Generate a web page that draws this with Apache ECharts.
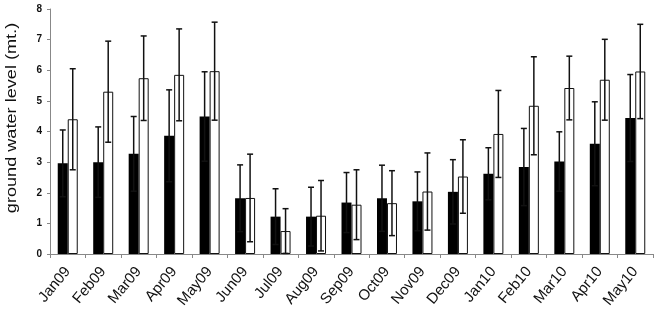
<!DOCTYPE html>
<html>
<head>
<meta charset="utf-8">
<script src="https://cdn.jsdelivr.net/npm/echarts@6/dist/echarts.min.js"></script>
<style>
html,body{margin:0;padding:0;background:#fff;}
#chart{width:662px;height:322px;}
</style>
</head>
<body>
<div id="chart"></div>
<script>
const categories = ['Jan09','Feb09','Mar09','Apr09','May09','Jun09','Jul09','Aug09','Sep09','Oct09','Nov09','Dec09','Jan10','Feb10','Mar10','Apr10','May10'];
const blackMean = [2.96,3.00,3.27,3.86,4.49,1.82,1.22,1.22,1.68,1.82,1.72,2.03,2.62,2.84,3.02,3.60,4.44];
const blackErr  = [1.09,1.15,1.22,1.50,1.46,1.09,0.91,0.96,0.98,1.08,0.96,1.05,0.85,1.26,0.97,1.37,1.42];
const whiteMean = [4.40,5.30,5.74,5.85,5.97,1.83,0.75,1.25,1.61,1.66,2.04,2.53,3.92,4.84,5.42,5.69,5.96];
const whiteErr  = [1.65,1.65,1.38,1.50,1.60,1.43,0.73,1.15,1.14,1.06,1.26,1.20,1.42,1.60,1.04,1.32,1.54];
const yTicks = [0,1,2,3,4,5,6,7,8];
const yTitle = 'ground water level (mt.)';

const chart = echarts.init(document.getElementById('chart'), null, {renderer:'canvas'});
const BAR_W = 10;

function errRender(side) {
  return function (params, api) {
    const i = api.value(0), m = api.value(1), e = api.value(2);
    const hi = api.coord([i, m + e]);
    const lo = api.coord([i, m - e]);
    const x = hi[0] + side * BAR_W / 2;
    const cap = 3;
    const st = {stroke:'#111', lineWidth:1.5};
    return {
      type:'group',
      children:[
        {type:'line', shape:{x1:x, y1:hi[1], x2:x, y2:lo[1]}, style:st},
        {type:'line', shape:{x1:x-cap, y1:hi[1], x2:x+cap, y2:hi[1]}, style:st},
        {type:'line', shape:{x1:x-cap, y1:lo[1], x2:x+cap, y2:lo[1]}, style:st}
      ]
    };
  };
}

const option = {
  animation:false,
  backgroundColor:'#fff',
  grid:{left:50, right:9, top:9, bottom:68},
  xAxis:{
    type:'category',
    data:categories,
    axisLine:{lineStyle:{color:'#888', width:1}},
    axisTick:{show:true, length:4, lineStyle:{color:'#888'}},
    axisLabel:{rotate:50, fontSize:15, color:'#111', fontFamily:'Liberation Sans, Arial, sans-serif', margin:15, interval:0}
  },
  yAxis:{
    type:'value',
    min:0, max:8, interval:1,
    splitLine:{show:false},
    axisLine:{show:true, lineStyle:{color:'#888', width:1}},
    axisTick:{show:true, length:3, lineStyle:{color:'#888'}},
    axisLabel:{fontSize:10, fontWeight:'bold', color:'#111', fontFamily:'Liberation Sans, Arial, sans-serif', margin:8,
      formatter:function(v){ return yTicks.indexOf(v) >= 0 ? String(v) : ''; }}
  },
  graphic:[{
    type:'text',
    x:12, y:118,
    rotation:Math.PI/2,
    scaleX:1.25, scaleY:1,
    style:{text:yTitle, fontSize:14.5, fontFamily:'Liberation Sans, Arial, sans-serif', fill:'#111', textAlign:'center', textVerticalAlign:'middle'}
  }],
  series:[
    {type:'bar', data:blackMean, barWidth:BAR_W, barGap:'0%', itemStyle:{color:'#000'}, z:2},
    {type:'bar', data:whiteMean, barWidth:BAR_W, barGap:'0%', itemStyle:{color:'#fff', borderColor:'#111', borderWidth:1}, z:2},
    {type:'custom', renderItem:errRender(-1), data:blackMean.map((m,i)=>[i,m,blackErr[i]]), encode:{x:0,y:1}, z:5},
    {type:'custom', renderItem:errRender(1), data:whiteMean.map((m,i)=>[i,m,whiteErr[i]]), encode:{x:0,y:1}, z:5}
  ]
};
chart.setOption(option);
</script>
</body>
</html>
